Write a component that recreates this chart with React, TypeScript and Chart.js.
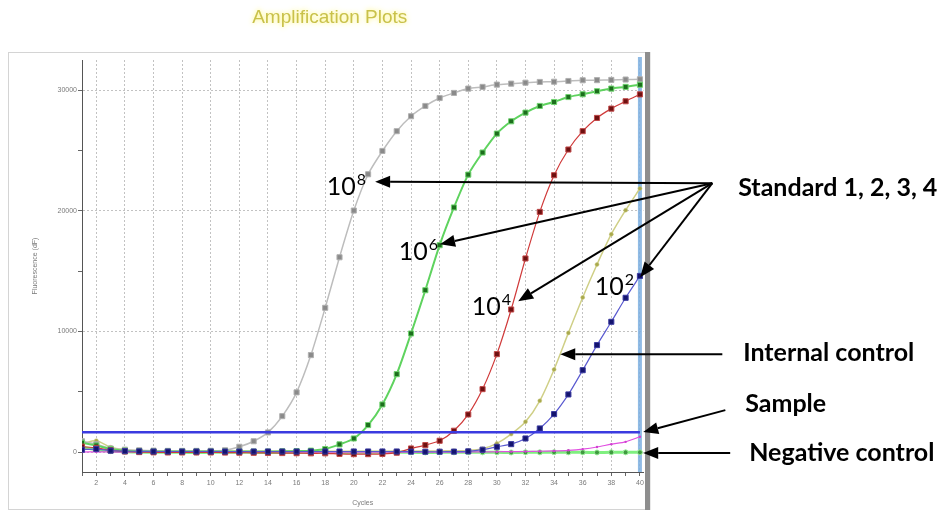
import { useEffect, useRef } from "react";
import { Chart, registerables } from "chart.js";

Chart.register(...registerables);

// ---------- data ----------
const cycles = [1, 2, 3, 4, 5, 6, 7, 8, 9, 10, 11, 12, 13, 14, 15, 16, 17, 18, 19, 20, 21, 22, 23, 24, 25, 26, 27, 28, 29, 30, 31, 32, 33, 34, 35, 36, 37, 38, 39, 40];

const standard1e8 = [900, 650, 300, 200, 150, 120, 100, 100, 100, 110, 150, 440, 900, 1630, 2980, 4950, 8040, 11960, 16150, 20020, 23030, 24960, 26600, 27840, 28690, 29350, 29770, 30130, 30270, 30460, 30540, 30620, 30680, 30700, 30760, 30820, 30830, 30850, 30880, 30900];
const standard1e6 = [780, 550, 250, 120, 60, 40, 40, 40, 40, 40, 40, 40, 40, 40, 60, 80, 120, 250, 640, 1130, 2240, 3950, 6460, 9830, 13420, 17150, 20280, 23000, 24830, 26400, 27420, 28140, 28690, 29020, 29430, 29660, 29910, 30130, 30270, 30450];
const standard1e4 = [450, 350, 150, 50, 0, -20, -30, -30, -30, -30, -40, -50, -60, -70, -80, -90, -100, -100, -150, -170, -170, -150, -50, 300, 580, 940, 1770, 3120, 5220, 8120, 11820, 16050, 19910, 22950, 25080, 26600, 27700, 28470, 29080, 29650];
const standard1e2 = [200, 250, 120, 80, 60, 50, 50, 50, 50, 50, 50, 50, 50, 50, 50, 50, 50, 50, 50, 50, 50, 50, 50, 40, 30, 30, 40, 60, 200, 440, 660, 1130, 1960, 3150, 4780, 6790, 8870, 10800, 12790, 14600];
const internalControl = [650, 950, 400, 200, 120, 100, 80, 80, 80, 80, 80, 80, 80, 80, 80, 80, 80, 80, 80, 80, 80, 80, 80, 80, 90, 100, 110, 130, 270, 720, 1490, 2510, 4250, 6850, 9880, 12820, 15550, 18060, 20050, 21850];
const sample = [0, 20, 10, 0, 0, 0, 0, 0, 0, 0, 0, 0, 0, 0, 0, 0, 0, 0, 0, 0, 0, 0, 0, 0, 0, 0, 0, 10, 20, 30, 40, 50, 70, 100, 150, 250, 420, 660, 850, 1270];
const negativeControl = [400, 200, 80, 30, 0, -20, -10, -20, -30, -20, -10, -20, -20, -30, -20, -10, -20, -20, -30, -20, -20, -10, -20, -20, -30, -20, -20, -10, -20, -20, -30, -20, -20, -10, -20, -20, -30, -20, -20, -20];
const thresholdLevel = 1650;

const xLabelValues = [2, 4, 6, 8, 10, 12, 14, 16, 18, 20, 22, 24, 26, 28, 30, 32, 34, 36, 38, 40];
const yTickValues = [0, 5000, 10000, 15000, 20000, 25000, 30000];
const yLabelValues = [0, 10000, 20000, 30000];

// annotation anchors, in data units (cycle, fluorescence)
const standardHub = { c: 45.06, v: 22290 };
const standardTips = [
  { c: 21.49, v: 22410 },
  { c: 26.03, v: 17230 },
  { c: 31.49, v: 12510 },
  { c: 40.02, v: 14500 },
];
const powerLabels = [
  { exp: "8", c: 18.1, v: 21290 },
  { exp: "6", c: 23.14, v: 15910 },
  { exp: "4", c: 28.24, v: 11350 },
  { exp: "2", c: 36.84, v: 13010 },
];
const sideLabels = [
  { text: "Standard 1, 2, 3, 4", c: 46.87, v: 21210 },
  { text: "Internal control", c: 47.22, v: 7540 },
  { text: "Sample", c: 47.36, v: 3310 },
  { text: "Negative control", c: 47.64, v: -750 },
];
const sideArrows = [
  { from: { c: 45.76, v: 8120 }, to: { c: 34.43, v: 8120 } },
  { from: { c: 45.97, v: 3480 }, to: { c: 40.23, v: 1660 } },
  { from: { c: 46.31, v: -80 }, to: { c: 40.23, v: -80 } },
];

const toXY = (vals: number[]) => vals.map((v, i) => ({ x: cycles[i], y: v }));

function arrow(ctx: CanvasRenderingContext2D, x1: number, y1: number, x2: number, y2: number) {
  const ang = Math.atan2(y2 - y1, x2 - x1);
  const len = 15;
  const hw = 6;
  const bx = x2 - len * Math.cos(ang);
  const by = y2 - len * Math.sin(ang);
  ctx.beginPath();
  ctx.moveTo(x1, y1);
  ctx.lineTo(bx, by);
  ctx.stroke();
  ctx.beginPath();
  ctx.moveTo(x2, y2);
  ctx.lineTo(bx + hw * Math.sin(ang), by - hw * Math.cos(ang));
  ctx.lineTo(bx - hw * Math.sin(ang), by + hw * Math.cos(ang));
  ctx.closePath();
  ctx.fill();
}

const decor = {
  id: "decor",
  beforeDraw(chart: any) {
    const { ctx, chartArea } = chart;
    ctx.save();
    ctx.fillStyle = "#ffffff";
    ctx.fillRect(0, 0, chart.width, chart.height);
    // panel frame
    ctx.strokeStyle = "#d4d4d4";
    ctx.lineWidth = 1;
    ctx.strokeRect(chartArea.left - 73.5, chartArea.top - 7.5, chartArea.right - chartArea.left + 80, chartArea.bottom - chartArea.top + 45);
    // title
    const cx = chartArea.left - 73 + (chartArea.right - chartArea.left + 80) / 2;
    ctx.font = "19px 'Liberation Sans'";
    ctx.textAlign = "center";
    ctx.textBaseline = "middle";
    ctx.shadowColor = "rgba(255,245,90,0.9)";
    ctx.shadowBlur = 5;
    ctx.fillStyle = "#c9c14a";
    ctx.fillText("Amplification Plots", cx, 18);
    ctx.restore();
  },
  beforeDatasetsDraw(chart: any) {
    const { ctx, chartArea, scales } = chart;
    ctx.save();
    const x40 = scales.x.getPixelForValue(cycles[cycles.length - 1]);
    ctx.strokeStyle = "rgba(125,175,225,0.85)";
    ctx.lineWidth = 4;
    ctx.beginPath();
    ctx.moveTo(x40, chartArea.top - 3);
    ctx.lineTo(x40, chartArea.bottom);
    ctx.stroke();
    ctx.restore();
  },
  afterDraw(chart: any) {
    const { ctx, chartArea, scales } = chart;
    const px = (c: number) => scales.x.getPixelForValue(c);
    const py = (v: number) => scales.y.getPixelForValue(v);
    ctx.save();
    // right grey bar of the panel
    ctx.fillStyle = "#8e8e8e";
    ctx.fillRect(chartArea.right + 1.5, chartArea.top - 8, 5, chartArea.bottom - chartArea.top + 46);

    ctx.strokeStyle = "#000";
    ctx.fillStyle = "#000";
    ctx.lineWidth = 2;
    for (const t of standardTips) {
      arrow(ctx, px(standardHub.c), py(standardHub.v), px(t.c), py(t.v));
    }
    for (const a of sideArrows) {
      arrow(ctx, px(a.from.c), py(a.from.v), px(a.to.c), py(a.to.v));
    }
    ctx.textAlign = "left";
    ctx.textBaseline = "alphabetic";
    for (const p of powerLabels) {
      const x = px(p.c);
      const y = py(p.v);
      ctx.font = "25px Lato";
      ctx.fillText("10", x, y);
      const w = ctx.measureText("10").width;
      ctx.font = "16px Lato";
      ctx.fillText(p.exp, x + w + 1, y - 10);
    }
    ctx.font = "bold 25px Lato";
    for (const s of sideLabels) {
      ctx.fillText(s.text, px(s.c), py(s.v));
    }
    ctx.restore();
  },
};

export default function App() {
  const ref = useRef<HTMLCanvasElement>(null);
  useEffect(() => {
    if (!ref.current) return;
    Chart.defaults.font.family = "'Liberation Sans', Arial, sans-serif";
    const chart = new Chart(ref.current, {
      type: "line",
      data: {
        datasets: [
          {
            label: "Threshold",
            data: [
              { x: cycles[0], y: thresholdLevel },
              { x: cycles[cycles.length - 1], y: thresholdLevel },
            ],
            borderColor: "#3b3be0",
            borderWidth: 2.5,
            pointRadius: 0,
          },
          {
            label: "10^2",
            data: toXY(standard1e2),
            borderColor: "#5a5ad0",
            borderWidth: 1.2,
            pointStyle: "rect",
            pointRadius: 3.6,
            pointBackgroundColor: "#14146e",
            pointBorderColor: "#3a3aa0",
            pointBorderWidth: 1,
          },
          {
            label: "10^4",
            data: toXY(standard1e4),
            borderColor: "#d03a3a",
            borderWidth: 1.2,
            pointStyle: "rect",
            pointRadius: 3.6,
            pointBackgroundColor: "#6e1010",
            pointBorderColor: "#c04848",
            pointBorderWidth: 1,
          },
          {
            label: "10^6",
            data: toXY(standard1e6),
            borderColor: "#5fd35f",
            borderWidth: 2,
            pointStyle: "rect",
            pointRadius: 3.6,
            pointBackgroundColor: "#1c6e1c",
            pointBorderColor: "#6fd46f",
            pointBorderWidth: 1,
          },
          {
            label: "10^8",
            data: toXY(standard1e8),
            borderColor: "#bdbdbd",
            borderWidth: 1.5,
            pointStyle: "rect",
            pointRadius: 3.6,
            pointBackgroundColor: "#8a8a8a",
            pointBorderColor: "#b0b0b0",
            pointBorderWidth: 1,
          },
          {
            label: "Internal control",
            data: toXY(internalControl),
            borderColor: "#cfcf86",
            borderWidth: 1.5,
            pointStyle: "circle",
            pointRadius: 2,
            pointBackgroundColor: "#a9a94c",
            pointBorderColor: "#c8c880",
            pointBorderWidth: 0.5,
          },
          {
            label: "Sample",
            data: toXY(sample),
            borderColor: "#e14fe1",
            borderWidth: 1.2,
            pointStyle: "circle",
            pointRadius: 1.2,
            pointBackgroundColor: "#d040d0",
            pointBorderWidth: 0,
          },
          {
            label: "Negative control",
            data: toXY(negativeControl),
            borderColor: "#7ff07f",
            borderWidth: 3,
            pointStyle: "circle",
            pointRadius: 2.5,
            pointBackgroundColor: "#3f9a3f",
            pointBorderColor: "#9bee9b",
            pointBorderWidth: 1,
          },
        ],
      },
      options: {
        responsive: true,
        maintainAspectRatio: false,
        animation: false,
        layout: { padding: { left: 22, top: 60, right: 297.5, bottom: 14 } },
        plugins: {
          legend: { display: false },
          tooltip: { enabled: false },
          title: { display: false },
        },
        elements: { line: { tension: 0.25 } },
        scales: {
          x: {
            type: "linear",
            min: 1,
            max: 40.25,
            afterFit: (s: any) => {
              s.height = 36;
            },
            afterBuildTicks: (s: any) => {
              s.ticks = cycles.map((c) => ({ value: c }));
            },
            ticks: {
              autoSkip: false,
              maxRotation: 0,
              padding: 3,
              color: "#7a7a7a",
              font: { size: 7 },
              callback: (v: any) => (xLabelValues.includes(Number(v)) ? String(v) : ""),
            },
            grid: {
              color: (c: any) => (xLabelValues.includes(c.tick?.value) ? "#c2c2c2" : "rgba(0,0,0,0)"),
              tickColor: "#666",
              tickLength: 4,
              lineWidth: 1,
            },
            border: { color: "#555", width: 1, dash: [2, 2] },
            title: { display: true, text: "Cycles", color: "#7a7a7a", font: { size: 7 }, padding: { top: 0, bottom: 1 } },
          },
          y: {
            type: "linear",
            min: -1650,
            max: 32500,
            afterFit: (s: any) => {
              s.width = 60;
            },
            afterBuildTicks: (s: any) => {
              s.ticks = yTickValues.map((v) => ({ value: v }));
            },
            ticks: {
              autoSkip: false,
              padding: 1,
              color: "#7a7a7a",
              font: { size: 7 },
              callback: (v: any) => (yLabelValues.includes(Number(v)) ? String(v) : ""),
            },
            grid: {
              color: (c: any) => (yLabelValues.includes(c.tick?.value) ? "#c2c2c2" : "rgba(0,0,0,0)"),
              tickColor: "#666",
              tickLength: 4,
              lineWidth: 1,
            },
            border: { color: "#555", width: 1, dash: [2, 2] },
            title: { display: true, text: "Fluorescence (dF)", color: "#7a7a7a", font: { size: 7 }, padding: { top: 9, bottom: 0 } },
          },
        },
      },
      plugins: [decor],
    } as any);
    return () => chart.destroy();
  }, []);
  return (
    <div style={{ position: "absolute", left: 0, top: 0, width: 941, height: 522, background: "#fff" }}>
      <canvas ref={ref} />
    </div>
  );
}
